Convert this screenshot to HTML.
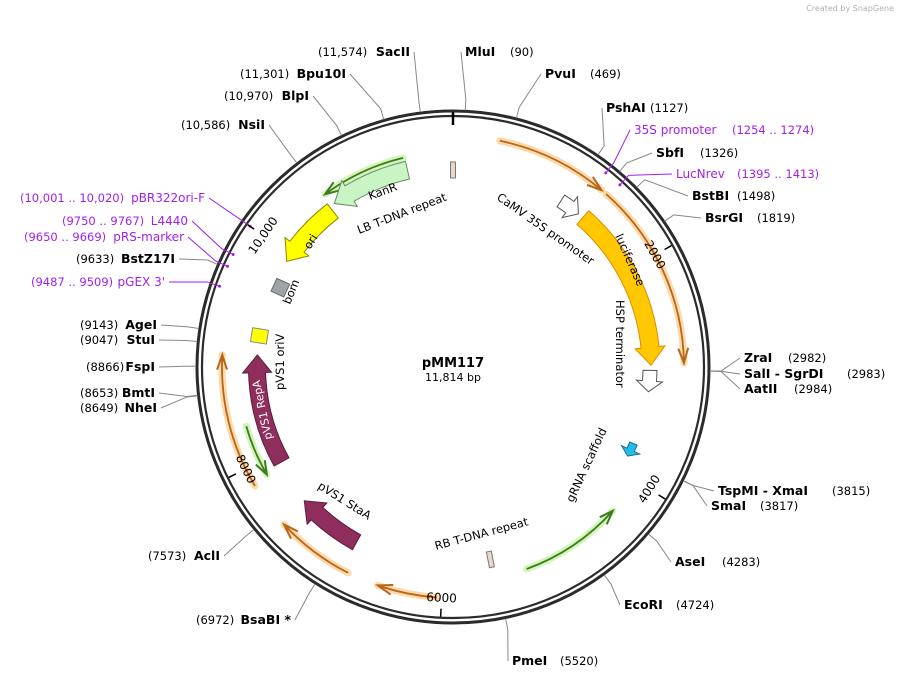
<!DOCTYPE html>
<html><head><meta charset="utf-8">
<style>
html,body{margin:0;padding:0;background:#fff;}
svg{display:block;font-family:"DejaVu Sans","Liberation Sans",sans-serif;}
</style></head>
<body>
<svg id="map" width="899" height="679" viewBox="0 0 899 679" xmlns="http://www.w3.org/2000/svg">
<text x="894" y="11" font-size="8" fill="#b0b0b0" text-anchor="end">Created by SnapGene</text>
<g id="ring"></g>
<g id="arcs"></g>
<g id="feats"></g>
<g id="sites"></g>
<g id="ticks"></g>
<text x="453" y="367" font-size="13" font-weight="bold" text-anchor="middle">pMM117</text>
<text x="453" y="381" font-size="11" text-anchor="middle">11,814 bp</text>
<g font-size="11.5" fill="#000">
<text transform="translate(359,234) rotate(-21)">LB T-DNA repeat</text>
<text transform="translate(496,199) rotate(35)">CaMV 35S promoter</text>
<text transform="translate(616,300) rotate(90)">HSP terminator</text>
<text transform="translate(573,503) rotate(-65)">gRNA scaffold</text>
<text transform="translate(436,550) rotate(-15)">RB T-DNA repeat</text>
<text transform="translate(317,488) rotate(32)">pVS1 StaA</text>
<text transform="translate(284,390) rotate(-90)">pVS1 oriV</text>
<text transform="translate(290,305) rotate(-68)">bom</text>
<text transform="translate(370,200) rotate(-20)">KanR</text>
<text transform="translate(310,250) rotate(-58)">ori</text>
<text transform="translate(615,236) rotate(66)">luciferase</text>
<text transform="translate(262,410) rotate(-102)" x="0" y="4" text-anchor="middle" font-size="11" fill="#fff">pVS1 RepA</text>
</g>
</svg>
<script>
const TOTAL = 11814;
const siteNames = ["MluI","PvuI","PshAI","SbfI","BstBI","BsrGI","ZraI","SalI - SgrDI","AatII","TspMI - XmaI","SmaI","AseI","EcoRI","PmeI","BsaBI *","AclI","NheI","BmtI","FspI","StuI","AgeI","BstZ17I","NsiI","BlpI","Bpu10I","SacII"];
const sitePositions = [90,469,1127,1326,1498,1819,2982,2983,2984,3815,3817,4283,4724,5520,6972,7573,8649,8653,8866,9047,9143,9633,10586,10970,11301,11574];
const siteLabels = ["(90)","(469)","(1127)","(1326)","(1498)","(1819)","(2982)","(2983)","(2984)","(3815)","(3817)","(4283)","(4724)","(5520)","(6972)","(7573)","(8649)","(8653)","(8866)","(9047)","(9143)","(9633)","(10,586)","(10,970)","(11,301)","(11,574)"];
const primerNames = ["35S promoter","LucNrev","pBR322ori-F","L4440","pRS-marker","pGEX 3'"];
const primerStarts = [1254,1395,10001,9750,9650,9487];
const primerLabels = ["(1254 .. 1274)","(1395 .. 1413)","(10,001 .. 10,020)","(9750 .. 9767)","(9650 .. 9669)","(9487 .. 9509)"];
const arcStarts = [384,1362,4332,6038,6793,7843,7876,10616];
const arcEnds   = [1313,2920,5250,6530,7449,8959,8336,11374];
const arcForward = [1,1,0,1,1,1,0,0];
const arcKinds = ["orange","orange","green","orange","orange","orange","green","green"];
const featNames = ["KanR","ori","pVS1 RepA","pVS1 StaA","luciferase","CaMV 35S promoter","HSP terminator","gRNA scaffold"];
const featStarts = [10633,9925,7910,6853,1345,1083,2986,3708];
const featEnds   = [11387,10580,8976,7483,2937,1290,3190,3840];
const featForward = [0,0,1,1,1,1,1,1];
const boxNames = ["bom","pVS1 oriV","LB T-DNA repeat","RB T-DNA repeat"];
const boxPositions = [9670,9160,0,5546];
const tickValues = [2000,4000,6000,8000,10000];
const tickLabels = ["2000","4000","6000","8000","10,000"];

const CX=453, CY=367, R=256;
const NS="http://www.w3.org/2000/svg";
function ang(bp){return bp/TOTAL*2*Math.PI;}
function pt(r,bp){const a=ang(bp);return [CX+r*Math.sin(a), CY-r*Math.cos(a)];}
function mk(tag,attrs,parent){const e=document.createElementNS(NS,tag);for(const k in attrs)e.setAttribute(k,attrs[k]);parent.appendChild(e);return e;}
function arcD(r,b1,b2){const p1=pt(r,b1),p2=pt(r,b2);const large=(b2-b1)/TOTAL>0.5?1:0;return `M${p1[0]},${p1[1]} A${r},${r} 0 ${large} 1 ${p2[0]},${p2[1]}`;}

const ring=document.getElementById('ring');
let c1=mk('circle',{cx:CX,cy:CY,r:R,fill:'none',stroke:'#2b2b2b','stroke-width':3},ring);


let c2=mk('circle',{cx:CX,cy:CY,r:R-5,fill:'none',stroke:'#2b2b2b','stroke-width':2.2},ring);


let z0=mk('line',{x1:CX,y1:CY-R+1,x2:CX,y2:CY-R+14,stroke:'#000','stroke-width':2.5},ring);



const tg=document.getElementById('ticks');
tickValues.forEach((v,i)=>{
  const a=pt(R-6,v),b=pt(R-14,v);
  const l=mk('line',{x1:a[0],y1:a[1],x2:b[0],y2:b[1],stroke:'#000','stroke-width':1.5},tg);
  
  
  const deg=v/TOTAL*360;
  let rot=deg; if(deg>90&&deg<270) rot=deg-180;
  const p=pt(R-25,v);
  const t=mk('text',{x:0,y:4,'font-size':12,'text-anchor':'middle',transform:`translate(${p[0]},${p[1]}) rotate(${rot})`},tg);
  t.textContent=tickLabels[i];
  
  
});

const ag=document.getElementById('arcs');
const arcRadii={orange:231,green:215};
arcStarts.forEach((s,i)=>{
  const r=arcRadii[arcKinds[i]];
  const col=arcKinds[i]==='orange'?['#fdd9a8','#b8661a']:['#d4f5b8','#3f7a22'];
  const g=mk('g',{},ag);
  
  
  mk('path',{d:arcD(r,s,arcEnds[i]),fill:'none',stroke:col[0],'stroke-width':7,'stroke-linecap':'round'},g);
  mk('path',{d:arcD(r,s,arcEnds[i]),fill:'none',stroke:col[1],'stroke-width':1.8},g);
  const tip=arcForward[i]?arcEnds[i]:s;
  const back=arcForward[i]?tip-120:tip+120;
  const p=pt(r,tip),q1=pt(r+5,back),q2=pt(r-5,back);
  mk('path',{d:`M${q1[0]},${q1[1]} L${p[0]},${p[1]} L${q2[0]},${q2[1]}`,fill:'none',stroke:col[1],'stroke-width':2},g);
});

const fg=document.getElementById('feats');
const featStyles=[['#c9f5c4','#6a8a66'],['#ffff00','#8a8a00'],['#8f2d5c','#5a1c3a'],['#8f2d5c','#5a1c3a'],['#ffc800','#e08b00'],['#ffffff','#555'],['#ffffff','#555'],['#22bde8','#1a6f8a']];
const featR=[202,197,196,200,198,198,197,196];
const featW=[18,18,17,17,18,14,14,8];
featStarts.forEach((s,i)=>{
  const r=featR[i],w=featW[i]/2,e=featEnds[i];
  const head=Math.min(170,(e-s)*0.5);
  let d;
  if(featForward[i]){
    const hb=e-head;
    const a=pt(r+w,s),b=pt(r+w,hb),b2=pt(r+w+6,hb),tp=pt(r,e),c2=pt(r-w-6,hb),c=pt(r-w,hb),dd=pt(r-w,s);
    d=`M${a[0]},${a[1]} A${r+w},${r+w} 0 0 1 ${b[0]},${b[1]} L${b2[0]},${b2[1]} L${tp[0]},${tp[1]} L${c2[0]},${c2[1]} L${c[0]},${c[1]} A${r-w},${r-w} 0 0 0 ${dd[0]},${dd[1]} Z`;
  } else {
    const hb=s+head;
    const a=pt(r+w,e),b=pt(r+w,hb),b2=pt(r+w+6,hb),tp=pt(r,s),c2=pt(r-w-6,hb),c=pt(r-w,hb),dd=pt(r-w,e);
    d=`M${a[0]},${a[1]} A${r+w},${r+w} 0 0 0 ${b[0]},${b[1]} L${b2[0]},${b2[1]} L${tp[0]},${tp[1]} L${c2[0]},${c2[1]} L${c[0]},${c[1]} A${r-w},${r-w} 0 0 1 ${dd[0]},${dd[1]} Z`;
  }
  const p=mk('path',{d:d,fill:featStyles[i][0],stroke:featStyles[i][1],'stroke-width':1},fg);
  
  
});
const boxStyles=[['#a0a4a8','#666',14,14],['#ffff00','#888',14,16],['#e8d8c8','#777',5,16],['#e8d8c8','#777',5,16]];
const boxR=[190,196,197,196];
boxPositions.forEach((b,i)=>{
  const p=pt(boxR[i],b),deg=b/TOTAL*360,s=boxStyles[i];
  const rc=mk('rect',{x:-s[2]/2,y:-s[3]/2,width:s[2],height:s[3],fill:s[0],stroke:s[1],'stroke-width':1,transform:`translate(${p[0]},${p[1]}) rotate(${deg})`},fg);
  
  
});

const sg=document.getElementById('sites');
const siteLayout=[[465,56,1],[545,78,1],[606,112,1],[656,157,1],[692,200,1],[705,222,1],[744,362,1],[744,378,1],[744,393,1],[718,495,1],[711,510,1],[675,566,1],[624,609,1],[512,665,1],[291,624,-1],[220,560,-1],[157,412,-1],[155,397,-1],[155,371,-1],[155,344,-1],[157,329,-1],[175,263,-1],[265,129,-1],[309,100,-1],[346,78,-1],[410,56,-1]];
const parenGap=[45,45,44,44,45,52,44,103,50,114,49,47,52,48,-95,-72,-77,-75,-69,-75,-77,-99,-84,-85,-106,-92];
siteNames.forEach((n,i)=>{
  const [lx,ly,side]=siteLayout[i];
  const a=pt(R+1,sitePositions[i]),b=pt(R+12,sitePositions[i]);
  const ex=side>0?lx-4:lx+4, ey=ly-4;
  const g=mk('g',{},sg);
  
  
  mk('polyline',{points:`${a[0]},${a[1]} ${b[0]},${b[1]} ${ex},${ey}`,fill:'none',stroke:'#888','stroke-width':1},g);
  const t=mk('text',{x:lx,y:ly,'font-size':12.5,'font-weight':'bold','text-anchor':side>0?'start':'end'},g);
  t.textContent=n;
  const t2=mk('text',{x:lx+parenGap[i],y:ly,'font-size':11.5},g);
  t2.textContent=siteLabels[i];
});
const primerLayout=[[634,134,1,98],[676,178,1,61],[205,202,-1,-185],[188,225,-1,-126],[184,241,-1,-160],[165,286,-1,-134]];
primerNames.forEach((n,i)=>{
  const [lx,ly,side,gap]=primerLayout[i];
  const a=pt(R-9,primerStarts[i]),b=pt(R+4,primerStarts[i]);
  const g=mk('g',{},sg);
  
  
  mk('polyline',{points:`${a[0]},${a[1]} ${b[0]},${b[1]} ${side>0?lx-4:lx+4},${ly-4}`,fill:'none',stroke:'#a020f0','stroke-width':1},g);
  mk('circle',{cx:a[0],cy:a[1],r:1.5,fill:'#a020f0'},g);
  const t=mk('text',{x:lx,y:ly,'font-size':12,fill:'#a020f0','text-anchor':side>0?'start':'end'},g);
  t.textContent=n;
  const t2=mk('text',{x:lx+gap,y:ly,'font-size':11.5,fill:'#a020f0'},g);
  t2.textContent=primerLabels[i];
});
</script>
</body></html>
